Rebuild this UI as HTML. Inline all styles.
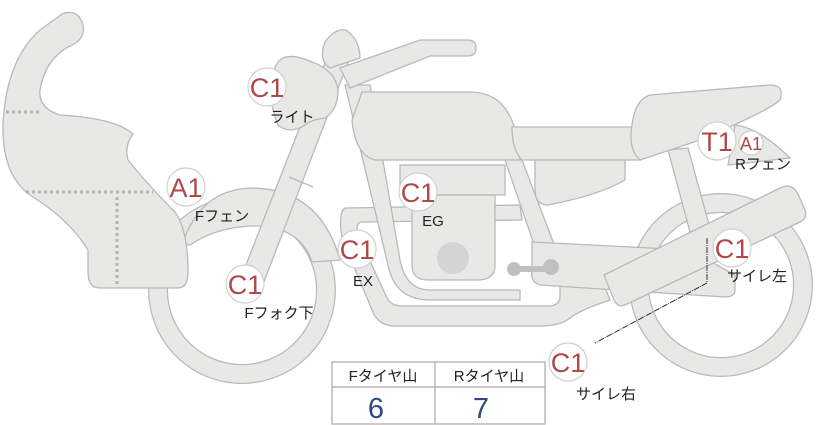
<!DOCTYPE html>
<html><head><meta charset="utf-8"><style>
html,body{margin:0;padding:0;background:#fff;width:822px;height:425px;overflow:hidden}
svg{display:block}
.p{fill:#e8e8e6;stroke:#b9b9b9;stroke-width:1.3}
.b{fill:#fff;stroke:#d0d0d0;stroke-width:1.2}
.c{font-family:"Liberation Sans","Noto Sans CJK JP",sans-serif;fill:#b04848;font-size:27px}
.l{font-family:"Liberation Sans","Noto Sans CJK JP",sans-serif;fill:#222;font-size:15px}
</style></head><body>
<svg width="822" height="425" viewBox="0 0 822 425" xmlns="http://www.w3.org/2000/svg">
<!-- front wheel -->
<circle cx="242" cy="290" r="84" fill="none" stroke="#b9b9b9" stroke-width="20"/>
<circle cx="242" cy="290" r="84" fill="none" stroke="#e8e8e6" stroke-width="17.5"/>
<!-- rear wheel -->
<circle cx="721" cy="285" r="82" fill="none" stroke="#b9b9b9" stroke-width="20"/>
<circle cx="721" cy="285" r="82" fill="none" stroke="#e8e8e6" stroke-width="17.5"/>
<!-- front fender -->
<path class="p" d="M182,245 Q200,190 250,188 Q320,188 340,260 L312,262 Q300,225 250,226 Q215,228 190,245 Z"/>
<!-- fairing -->
<path class="p" d="M62,14 Q78,8 83,25 Q86,40 68,47 Q45,60 40,90 Q38,108 60,115 Q115,118 133,134 Q124,146 128,160 Q148,185 175,212 Q188,230 188,272 Q188,288 178,288 L100,288 Q88,288 88,272 L88,250 Q70,220 30,195 Q2,175 3,125 Q6,60 40,30 Z"/>
<g stroke="#b4b4b4" stroke-width="3" stroke-dasharray="3,3" fill="none">
<line x1="6" y1="112" x2="40" y2="112"/>
<line x1="26" y1="192" x2="153" y2="192"/>
<line x1="117" y1="197" x2="117" y2="285"/>
</g>
<!-- exhaust pipes -->
<path class="p" d="M345,208 L520,205 L522,220 L362,222 Q355,222 358,235 L388,300 Q392,305 400,306 L548,306 Q560,306 560,296 L560,285 L600,275 L610,300 Q580,310 570,318 Q560,326 540,326 L395,326 Q378,326 372,310 L342,238 Q338,212 345,208 Z"/>
<!-- frame down tubes -->
<path class="p" d="M345,85 L370,85 L400,260 Q406,290 430,290 L520,290 L520,300 L430,300 Q395,300 388,265 Z"/>
<!-- tank -->
<path class="p" d="M362,92 L470,92 Q505,92 515,130 L520,160 L375,160 Q355,155 352,120 Z"/>
<!-- seat -->
<path class="p" d="M512,127 L640,127 L640,160 L522,160 Q512,150 512,127 Z"/>
<!-- side cover -->
<path class="p" d="M535,160 L625,160 L625,180 Q600,195 548,205 Q535,205 535,190 Z"/>
<!-- rear frame -->
<path class="p" d="M505,160 L522,160 L560,260 L540,262 Z"/>
<path class="p" d="M668,150 L688,148 L710,228 L690,232 Z"/>
<!-- swingarm -->
<path class="p" d="M532,242 L690,250 L735,275 L735,290 Q735,297 725,297 L540,285 Q530,282 532,270 Z"/>
<!-- engine -->
<rect class="p" x="400" y="165" width="105" height="30"/>
<path class="p" d="M412,195 L495,195 L495,265 Q495,280 478,280 L428,280 Q412,280 412,265 Z"/>
<circle cx="453" cy="258" r="16" fill="#d4d4d4"/>
<path class="p" d="M405,195 L505,195 L505,200 L405,200 Z" style="display:none"/>
<!-- chain adjuster -->
<line x1="512" y1="269" x2="553" y2="269" stroke="#c0c0c0" stroke-width="6"/>
<circle cx="514" cy="269" r="7" fill="#c0c0c0"/><circle cx="551" cy="267" r="8" fill="#c0c0c0"/>
<!-- fork -->
<path class="p" d="M330,50 Q345,42 352,52 L260,292 Q250,300 240,290 Q238,282 242,275 Z"/>
<line x1="289" y1="177" x2="313" y2="187" stroke="#b9b9b9" stroke-width="1.3"/>
<!-- handlebar -->
<path class="p" d="M340,68 L420,40 L468,40 Q476,40 476,48 Q476,56 468,56 L430,56 L350,88 Z"/>
<!-- mirror -->
<path class="p" d="M325,42 Q335,28 346,30 Q360,40 360,58 L330,68 Q318,60 325,42 Z"/>
<!-- headlight -->
<path class="p" d="M280,60 Q290,52 312,62 Q335,70 338,90 Q338,110 325,118 Q310,120 305,125 Q290,135 278,125 Q268,100 272,80 Q274,65 280,60 Z"/>
<!-- rear cowl + fender -->
<path class="p" d="M735,125 Q760,128 790,158 L728,165 Z"/>
<path class="p" d="M650,95 L770,85 Q785,85 780,100 Q770,110 700,140 L640,160 Q628,150 632,125 Q635,100 650,95 Z"/>
<!-- muffler -->
<path class="p" d="M604,275 L780,188 Q792,182 798,194 L805,210 Q808,218 800,222 L625,305 Q618,308 614,300 Z"/>
<!-- dashed leader -->
<path d="M707,238 L707,283 L595,343" fill="none" stroke="#333" stroke-width="1" stroke-dasharray="6,1,1,1"/>
<!-- badges -->
<g>
<circle class="b" cx="267" cy="87" r="19"/><text class="c" x="267" y="97" text-anchor="middle">C1</text>
<text class="l" x="292" y="122" text-anchor="middle">ライト</text>
<circle class="b" cx="186" cy="187" r="19"/><text class="c" x="186" y="197" text-anchor="middle">A1</text>
<text class="l" x="222" y="221" text-anchor="middle">Fフェン</text>
<circle class="b" cx="245" cy="284" r="19"/><text class="c" x="245" y="294" text-anchor="middle">C1</text>
<text class="l" x="279" y="318" text-anchor="middle">Fフォク下</text>
<circle class="b" cx="357" cy="249" r="19"/><text class="c" x="357" y="259" text-anchor="middle">C1</text>
<text class="l" x="363" y="286" text-anchor="middle">EX</text>
<circle class="b" cx="418" cy="192" r="19"/><text class="c" x="418" y="202" text-anchor="middle">C1</text>
<text class="l" x="433" y="226" text-anchor="middle">EG</text>
<circle class="b" cx="717" cy="141" r="19"/><text class="c" x="717" y="151" text-anchor="middle">T1</text>
<circle class="b" cx="751" cy="143" r="12"/><text class="c" x="751" y="150" text-anchor="middle" style="font-size:18px">A1</text>
<text class="l" x="763" y="169" text-anchor="middle">Rフェン</text>
<circle class="b" cx="732" cy="248" r="19"/><text class="c" x="732" y="258" text-anchor="middle">C1</text>
<text class="l" x="757" y="281" text-anchor="middle">サイレ左</text>
<circle class="b" cx="568" cy="362" r="19"/><text class="c" x="568" y="372" text-anchor="middle">C1</text>
<text class="l" x="606" y="399" text-anchor="middle">サイレ右</text>
</g>
<!-- table -->
<g stroke="#a8a8a8" stroke-width="1.2" fill="#fff">
<rect x="332" y="362" width="213" height="62"/>
<line x1="332" y1="387" x2="545" y2="387"/>
<line x1="435" y1="362" x2="435" y2="424"/>
</g>
<text class="l" x="383" y="381" text-anchor="middle">Fタイヤ山</text>
<text class="l" x="489" y="381" text-anchor="middle">Rタイヤ山</text>
<text x="376" y="418" text-anchor="middle" style="font-family:'Liberation Sans',sans-serif;font-size:29px;fill:#2c4a80">6</text>
<text x="481" y="418" text-anchor="middle" style="font-family:'Liberation Sans',sans-serif;font-size:29px;fill:#2c4a80">7</text>
</svg>
</body></html>
